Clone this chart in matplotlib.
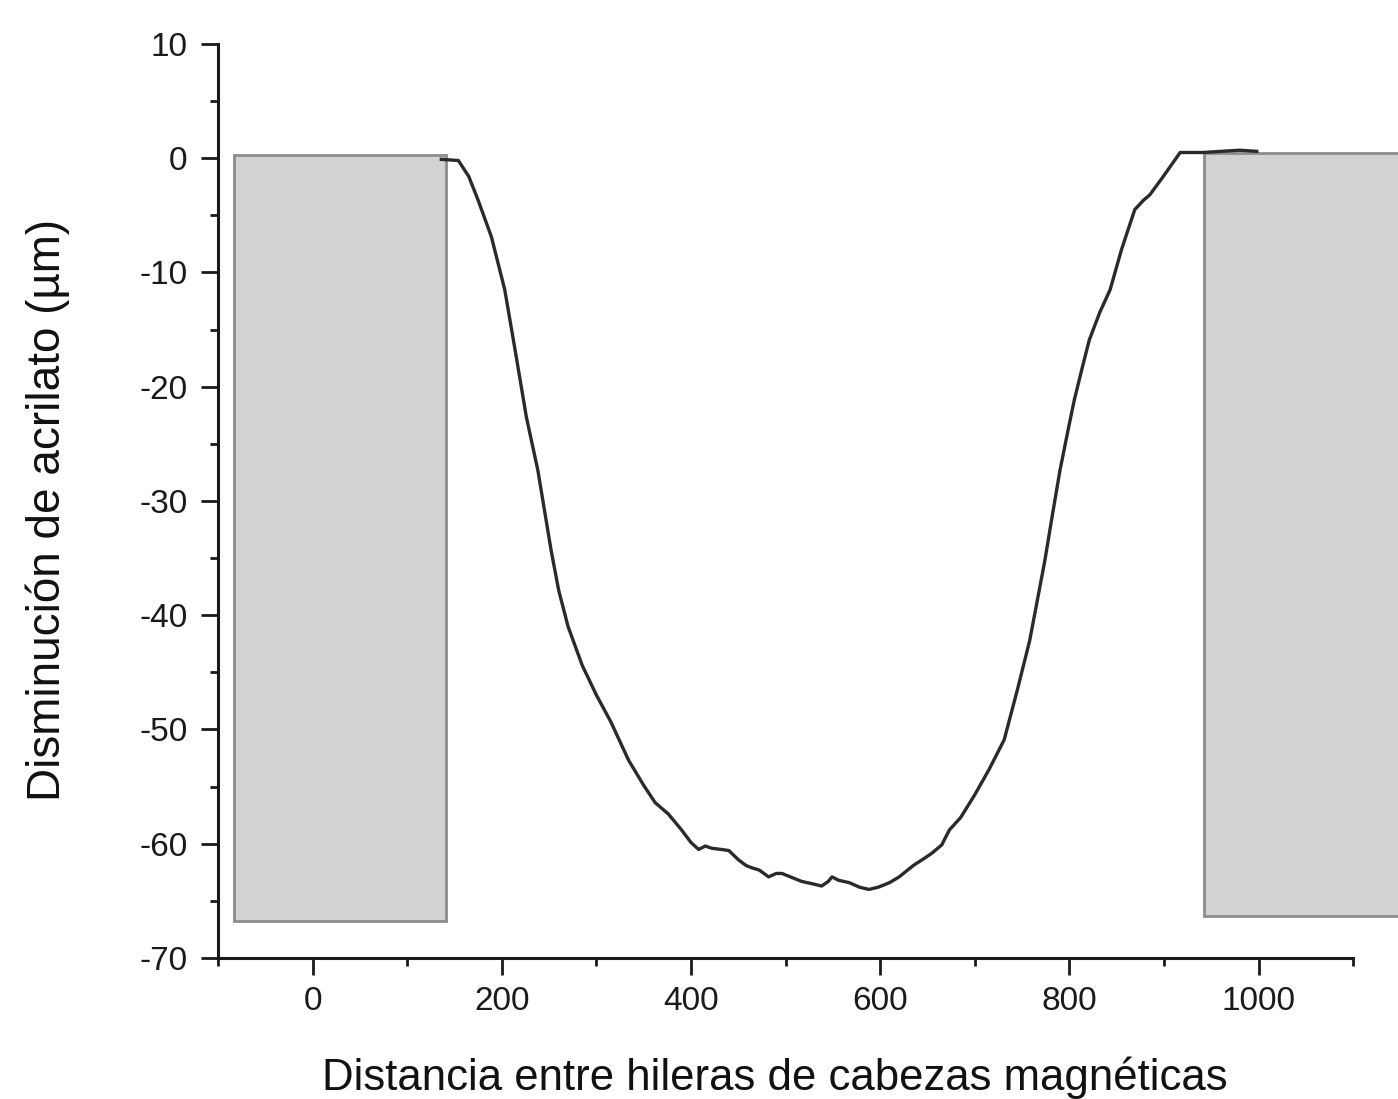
import matplotlib
matplotlib.use("Agg")
import matplotlib.pyplot as plt
from matplotlib.patches import Rectangle
from matplotlib.ticker import MultipleLocator

plt.rcParams['font.family'] = ['Liberation Sans', 'DejaVu Sans']
plt.rcParams['axes.unicode_minus'] = False

# Acrylate thickness loss profile between rows of magnetic heads
distance = [136, 154, 165, 175, 189, 203, 214, 226, 238, 252, 260, 270, 285,
            300, 315, 334, 350, 362, 376, 390, 400, 408, 415, 422, 432, 440, 450,
            458, 464, 472, 482, 490, 496, 505, 517, 528, 538, 545, 549, 556, 567,
            578, 588, 598, 610, 620, 635, 648, 655, 665, 673, 685, 700, 715, 731,
            745, 758, 766, 774, 782, 790, 798, 805, 813, 821, 832, 843, 855, 869,
            878, 885, 900, 917, 941, 960, 980, 998]
decrease = [-0.1, -0.2, -1.6, -3.7, -6.9, -11.5, -16.8, -22.7, -27.3, -34.3,
            -37.8, -41.0, -44.4, -47.0, -49.3, -52.7, -54.9, -56.4, -57.4, -58.8,
            -59.9, -60.5, -60.2, -60.4, -60.5, -60.6, -61.4, -61.9, -62.1, -62.3,
            -62.9, -62.6, -62.6, -62.9, -63.3, -63.5, -63.7, -63.3, -62.9, -63.2,
            -63.4, -63.8, -64.0, -63.8, -63.4, -62.9, -61.9, -61.2, -60.8, -60.1,
            -58.8, -57.7, -55.7, -53.5, -50.9, -46.5, -42.2, -38.7, -35.2, -31.2,
            -27.3, -24.0, -21.2, -18.5, -15.9, -13.5, -11.5, -8.0, -4.5, -3.7,
            -3.2, -1.5, 0.5, 0.5, 0.6, 0.7, 0.6]

# Magnetic head blocks (x start, x end, y bottom, y top)
heads = [(-83, 141, -66.8, 0.3), (942, 1150, -66.3, 0.5)]

xticks = [0, 200, 400, 600, 800, 1000]
yticks = [10, 0, -10, -20, -30, -40, -50, -60, -70]

fig = plt.figure(figsize=(13.98, 10.99), dpi=100)
ax = fig.add_axes([0.156, 0.1283, 0.812, 0.8317])

for x0, x1, y0, y1 in heads:
    ax.add_patch(Rectangle((x0, y0), x1 - x0, y1 - y0, facecolor='#d2d2d2',
                           edgecolor='#8c8c8c', linewidth=2.0, clip_on=False,
                           zorder=1))

ax.plot(distance, decrease, color='#2a2a2a', linewidth=2.4, zorder=3,
        solid_joinstyle='round')

ax.set_xlim(-100, 1100)
ax.set_ylim(-70, 10)
ax.set_xticks(xticks)
ax.set_yticks(yticks)
ax.xaxis.set_minor_locator(MultipleLocator(100))
ax.yaxis.set_minor_locator(MultipleLocator(5))

for side in ('top', 'right'):
    ax.spines[side].set_visible(False)
for side in ('left', 'bottom'):
    ax.spines[side].set_linewidth(2.2)
    ax.spines[side].set_color('#1a1a1a')

ax.tick_params(which='major', direction='out', length=12, width=2.0,
               labelsize=24, colors='#1a1a1a')
ax.tick_params(which='minor', direction='out', length=6, width=2.0,
               colors='#1a1a1a')
ax.tick_params(axis='y', which='major', pad=10)
ax.tick_params(axis='x', which='major', pad=8)

ax.set_xlabel('Distancia entre hileras de cabezas magnéticas', fontsize=31.5,
              color='#111111')
ax.set_ylabel('Disminución de acrilato (µm)', fontsize=33, labelpad=50,
              color='#111111')
ax.xaxis.set_label_coords(0.49, -0.108)
ax.yaxis.label.set_y(0.49)

fig.savefig('out.png', dpi=100, facecolor='white')
